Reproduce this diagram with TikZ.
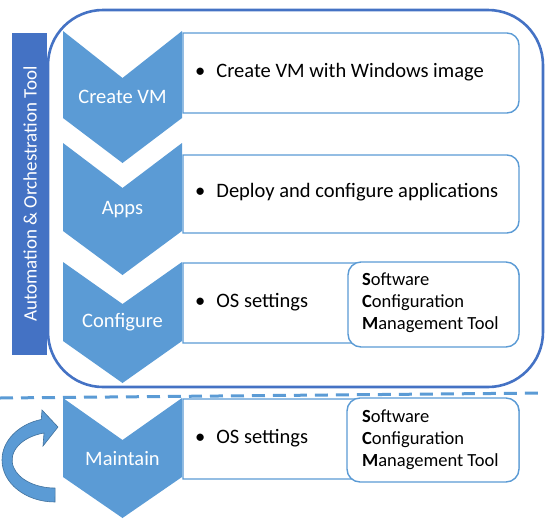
\documentclass[tikz,border=0pt]{standalone}
\usepackage{fontspec}
\setmainfont{Carlito}
\definecolor{chev}{RGB}{91,155,213}
\definecolor{dblue}{RGB}{68,114,196}
\definecolor{aedge}{RGB}{65,113,156}
\tikzset{
  chevshape/.style={fill=chev},
  boxline/.style={draw=chev,line width=1.4pt,fill=white},
  scmbox/.style={draw=chev,line width=1.4pt,fill=white,rounded corners=13pt},
  chevlabel/.style={text=white,font=\fontsize{20.5}{24}\selectfont,anchor=center,inner sep=0pt},
  bullettext/.style={text=black,font=\fontsize{20.5}{24}\selectfont,anchor=west,inner sep=0pt},
  scmtext/.style={text=black,font=\fontsize{18.5}{22}\selectfont,anchor=west,inner sep=0pt,align=left},
}
\newcommand\rrbox[4]{\draw[boxline] (#1,#2) -- ({#3-12},#2) arc[start angle=-90,end angle=0,radius=12] -- (#3,{#4-12}) arc[start angle=0,end angle=90,radius=12] -- (#1,#4) -- cycle;}
\newcommand\chevron[4]{\fill[chevshape] (63,#1) -- (122.5,#2) -- (182,#1) -- (182,#3) -- (122.5,#4) -- (63,#3) -- cycle;}
\begin{document}
\begin{tikzpicture}[x=1pt,y=-1pt]
\useasboundingbox (0,0) rectangle (555,520);
% big rounded frame
\draw[dblue,line width=2.6pt,rounded corners=55pt] (48,10) rectangle (543,387);
% vertical bar
\fill[dblue] (12,33) rectangle (47,355);
\node[rotate=90,text=white,font=\fontsize{19}{22}\selectfont,inner sep=0pt] (bar) at (30,194) {Automation \& Orchestration Tool};
% text boxes
\rrbox{183}{33}{519}{113}
\rrbox{183}{155}{519}{233}
\rrbox{183}{263}{519}{343}
\rrbox{183}{399}{519}{479}
\draw[scmbox] (348,262) rectangle (519,347);
\draw[scmbox] (347,398) rectangle (519,482);
% chevrons
\chevron{31}{78}{118}{163}
\chevron{143}{188}{231}{275}
\chevron{262}{304}{341}{383}
\chevron{398}{440}{477}{518}
\node[chevlabel] (c1) at (122.5,97) {Create VM};
\node[chevlabel] (c2) at (122.5,210) {Apps};
\node[chevlabel] (c3) at (122.5,322) {Configure};
\node[chevlabel] (c4) at (122.5,459) {Maintain};
% bullet texts
\node[bullettext] (t1) at (195,72) {\textbullet\hspace{11pt}Create VM with Windows image};
\node[bullettext] (t2) at (195,192) {\textbullet\hspace{11pt}Deploy and configure applications};
\node[bullettext] (t3) at (195,302) {\textbullet\hspace{11pt}OS settings};
\node[bullettext] (t4) at (195,438) {\textbullet\hspace{11pt}OS settings};
\node[scmtext] (s1) at (362,303) {\textbf{S}oftware\\\textbf{C}onfiguration\\\textbf{M}anagement Tool};
\node[scmtext] (s2) at (362,440) {\textbf{S}oftware\\\textbf{C}onfiguration\\\textbf{M}anagement Tool};
% dashed separator
\coordinate (dl) at (0,398);
\coordinate (dr) at (545,393);
\draw[chev,line width=3pt,dash pattern=on 13pt off 8pt] (dl) -- (dr);
% curved arrow
\draw[fill=chev,draw=aedge,line width=0.6pt] (55,502) arc[start angle=90,end angle=255,x radius=53,y radius=42] -- (42,410) -- (58,427) -- (43,446) -- (44,433) arc[start angle=255,end angle=90,x radius=43,y radius=28] -- cycle;
\end{tikzpicture}
\end{document}
